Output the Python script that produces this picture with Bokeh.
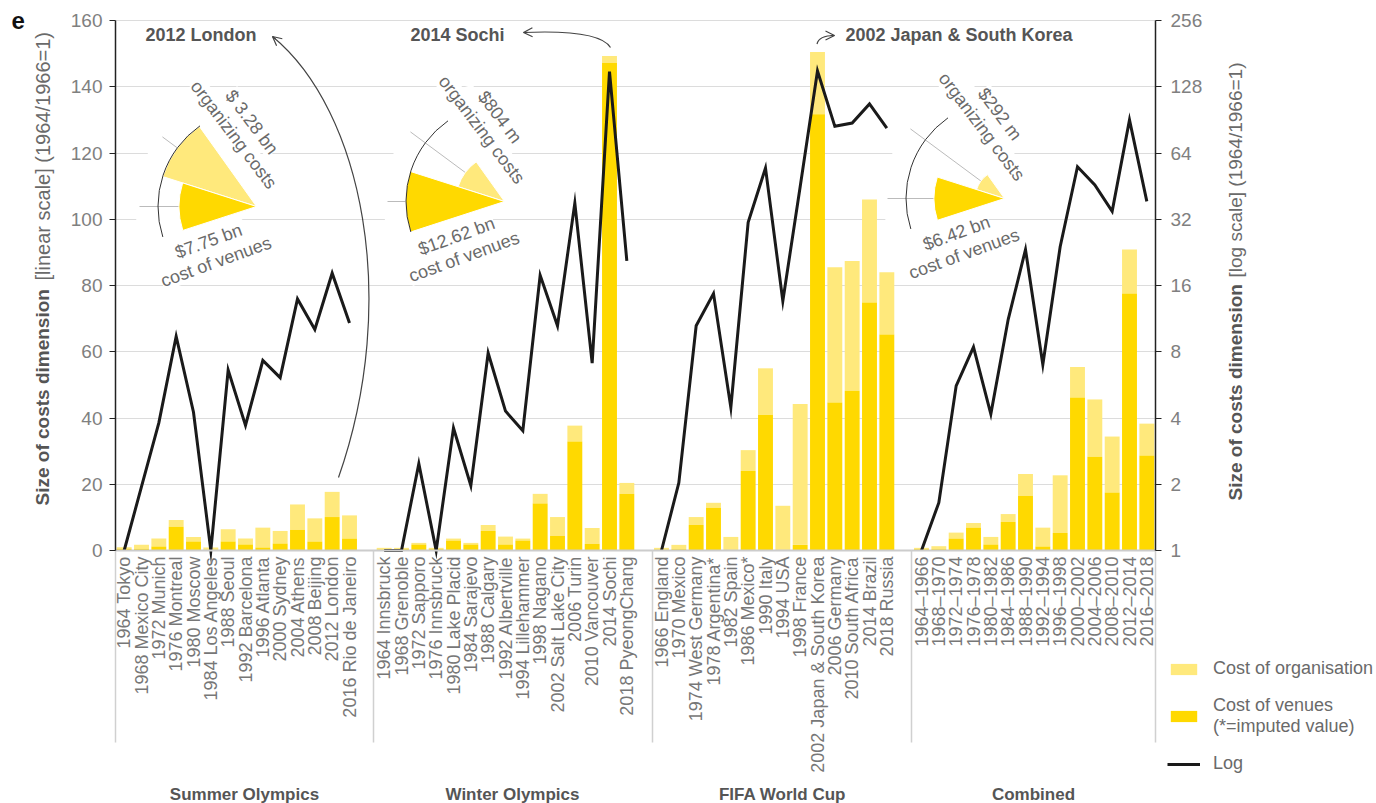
import math
from bokeh.plotting import figure
from bokeh.models import (Range1d, LogAxis, LogScale, FixedTicker, Label, Arrow, OpenHead,
                          Legend, LegendItem, ColumnDataSource)
from bokeh.embed import file_html
from bokeh.resources import INLINE

# ------------------------------------------------------------------ data
summer_names = ["1964 Tokyo", "1968 Mexico City", "1972 Munich", "1976 Montreal", "1980 Moscow",
                "1984 Los Angeles", "1988 Seoul", "1992 Barcelona", "1996 Atlanta", "2000 Sydney",
                "2004 Athens", "2008 Beijing", "2012 London", "2016 Rio de Janeiro"]
summer_venues = [0.5, 0.5, 1.2, 7.2, 2.7, 0.2, 2.7, 1.8, 0.9, 2.1, 6.2, 2.7, 10.1, 3.6]
summer_org = [0.5, 1.2, 2.4, 2.0, 1.4, 0.7, 3.7, 1.8, 6.0, 3.8, 7.7, 7.0, 7.6, 7.0]
summer_log = [1, 1.95, 3.8, 9.4, 4.25, 1, 6.6, 3.7, 7.3, 6.1, 13.9, 10.1, 18.2, 10.8]

winter_names = ["1964 Innsbruck", "1968 Grenoble", "1972 Sapporo", "1976 Innsbruck", "1980 Lake Placid",
                "1984 Sarajevo", "1988 Calgary", "1992 Albertville", "1994 Lillehammer", "1998 Nagano",
                "2002 Salt Lake City", "2006 Turin", "2010 Vancouver", "2014 Sochi", "2018 PyeongChang"]
winter_venues = [0.3, 0.4, 1.8, 0.4, 3.0, 1.8, 5.9, 1.8, 3.0, 14.2, 4.4, 32.9, 2.0, 147.2, 17.1]
winter_org = [0.5, 0.4, 0.5, 0.4, 0.6, 0.5, 1.8, 2.4, 0.6, 2.9, 5.7, 4.8, 4.8, 2.1, 3.3]
winter_log = [1, 1, 2.48, 1, 3.6, 1.97, 7.9, 4.3, 3.5, 17.8, 10.5, 37.9, 7.1, 150, 20.7]

wc_names = ["1966 England", "1970 Mexico", "1974 West Germany", "1978 Argentina*", "1982 Spain",
            "1986 Mexico*", "1990 Italy", "1994 USA", "1998 France", "2002 Japan & South Korea",
            "2006 Germany", "2010 South Africa", "2014 Brazil", "2018 Russia"]
wc_venues = [0.3, 0.4, 7.7, 12.9, 0.0, 24.0, 41.0, 0.0, 1.7, 131.7, 44.7, 48.2, 74.9, 65.2]
wc_org = [0.5, 1.3, 2.4, 1.5, 4.1, 6.3, 14.0, 13.5, 42.5, 18.8, 40.8, 39.2, 31.1, 18.8]
wc_log = [1, 2.03, 10.5, 14.7, 4.47, 31, 54.7, 13.6, 45, 150.9, 84.6, 87.6, 107, 83]

comb_names = ["1964\u20131966", "1968\u20131970", "1972\u20131974", "1976\u20131978", "1980\u20131982",
              "1984\u20131986", "1988\u20131990", "1992\u20131994", "1996\u20131998", "2000\u20132002",
              "2004\u20132006", "2008\u20132010", "2012\u20132014", "2016\u20132018"]
comb_venues = [0.4, 0.4, 3.6, 6.9, 1.8, 8.6, 16.5, 1.2, 5.3, 46.2, 28.3, 17.5, 77.6, 28.7]
comb_org = [0.4, 0.9, 1.8, 1.4, 2.3, 2.4, 6.6, 5.7, 17.4, 9.2, 17.3, 16.9, 13.3, 9.6]
comb_log = [1, 1.65, 5.6, 8.4, 4.17, 11.2, 23.3, 7.0, 24, 55.4, 45.8, 34.8, 90.5, 38.6]

group_titles = ["Summer Olympics", "Winter Olympics", "FIFA World Cup", "Combined"]
left_ticks = [0, 20, 40, 60, 80, 100, 120, 140, 160]
right_ticks = [1, 2, 4, 8, 16, 32, 64, 128, 256]

inset_titles = ["2012 London", "2014 Sochi", "2002 Japan & South Korea"]
inset_org_bn = [3.28, 0.804, 0.292]
inset_venue_bn = [7.75, 12.62, 6.42]
inset_org_text = ["$ 3.28 bn", "$804 m", "$292 m"]
inset_venue_text = ["$7.75 bn", "$12.62 bn", "$6.42 bn"]

legend_labels = ["Cost of organisation", "Cost of venues\n(*=imputed value)", "Log"]

# ------------------------------------------------------------------ layout
W, H = 1376, 803
FL, FR, FT, FB = 115, 1155, 20, 550     # pixel box of the chart area proper
XMIN, XMAX = -0.5, 59.5
YMAX = 160
LIGHT = "#FFE97C"
DARK = "#FFD900"
TXT = "#6a6a6a"
BOLD = "#555555"
FONT = "Liberation Sans"


def X(px):
    return XMIN + (px - FL) / (FR - FL) * (XMAX - XMIN)


def Y(py):
    return (FB - py) / (FB - FT) * YMAX


def LY(py):
    return 2 ** ((FB - py) / (FB - FT) * 8)


# the plotting frame covers the whole canvas; axes are pinned with fixed_location
p = figure(width=W, height=H, x_range=Range1d(X(0), X(W)), y_range=Range1d(Y(H), Y(0)),
           output_backend="svg", toolbar_location=None,
           min_border_left=0, min_border_right=0, min_border_top=0, min_border_bottom=0,
           extra_y_ranges={"log": Range1d(LY(H), LY(0))}, extra_y_scales={"log": LogScale()})
p.outline_line_color = None
p.background_fill_color = "white"
p.border_fill_color = "white"
p.xgrid.visible = False

try:
    p.ygrid.cross_bounds = (XMIN, XMAX)
    p.ygrid.bounds = (0, YMAX)
    p.ygrid.ticker = FixedTicker(ticks=left_ticks)
    p.ygrid.grid_line_color = "#dcdcdc"
    p.ygrid.grid_line_width = 1
except Exception:
    p.ygrid.visible = False
    p.segment(x0=[XMIN] * 8, y0=left_ticks[1:], x1=[XMAX] * 8, y1=left_ticks[1:],
              line_color="#dcdcdc", line_width=1, level="underlay")

starts = [0, 15, 31, 46]
names_all = [summer_names, winter_names, wc_names, comb_names]
venues_all = [summer_venues, winter_venues, wc_venues, comb_venues]
org_all = [summer_org, winter_org, wc_org, comb_org]
log_all = [summer_log, winter_log, wc_log, comb_log]

xs, labels, ven, tot = [], [], [], []
for s, nm, v, o in zip(starts, names_all, venues_all, org_all):
    for i in range(len(nm)):
        xs.append(s + i)
        labels.append(nm[i])
        ven.append(v[i])
        tot.append(v[i] + o[i])

# bottom axis: category names; minor ticks act as group separators
separators = [XMIN, 14.4, 30.5, 45.4, XMAX]
xa = p.xaxis[0]
xa.fixed_location = 0
xa.bounds = (XMIN, XMAX)
xa.ticker = FixedTicker(ticks=xs, minor_ticks=separators)
xa.major_label_overrides = {x: l for x, l in zip(xs, labels)}
xa.major_label_orientation = math.pi / 2
xa.major_tick_line_color = None
xa.major_tick_out = 0
xa.major_tick_in = 0
xa.minor_tick_line_color = "#d0d0d0"
xa.minor_tick_line_width = 1.5
xa.minor_tick_out = 192
xa.minor_tick_in = 0
xa.axis_line_color = "#cccccc"
xa.axis_line_width = 2
xa.major_label_standoff = -186
xa.major_label_text_font_size = "18px"
xa.major_label_text_color = "#777777"
xa.major_label_text_font = FONT

# left axis
ya = p.yaxis[0]
ya.fixed_location = XMIN
ya.bounds = (0, YMAX)
ya.ticker = FixedTicker(ticks=left_ticks)
ya.major_tick_out = 6
ya.major_tick_in = 0
ya.minor_tick_line_color = None
ya.axis_line_color = "#222222"
ya.axis_line_width = 1.5
ya.major_tick_line_color = "#222222"
ya.major_label_text_font_size = "19px"
ya.major_label_text_color = "#808080"
ya.major_label_text_font = FONT
ya.major_label_standoff = 7

# right log axis
ra = LogAxis(y_range_name="log", ticker=FixedTicker(ticks=right_ticks), fixed_location=XMAX,
             bounds=(1, 256), major_label_overrides={t: str(t) for t in right_ticks})
ra.major_tick_out = 6
ra.major_tick_in = 0
ra.minor_tick_line_color = None
ra.axis_line_color = "#222222"
ra.axis_line_width = 1.5
ra.major_tick_line_color = "#222222"
ra.major_label_text_font_size = "19px"
ra.major_label_text_color = "#808080"
ra.major_label_text_font = FONT
ra.major_label_standoff = 9
p.add_layout(ra, "right")

# ------------------------------------------------------------------ inset pies
centers = [(256, 206), (504, 201), (1004, 198)]
K_VEN, K_ORG = 775.0, 2950.0
A0, A1, A2 = math.radians(125.5), math.radians(162.3), math.radians(198)
r_ref = 98.5

for (cx, cy) in centers:
    p.wedge(x=X(cx), y=Y(cy), radius=121, radius_units="screen",
            start_angle=math.radians(105), end_angle=math.radians(222),
            fill_color="white", line_color=None)

for k, (cx, cy) in enumerate(centers):
    rv = math.sqrt(K_VEN * inset_venue_bn[k])
    ro = math.sqrt(K_ORG * inset_org_bn[k])
    for ang, rin in ((143.5, ro), (180.0, min(rv, r_ref))):
        a = math.radians(ang)
        p.segment(x0=X(cx + 117 * math.cos(a)), y0=Y(cy - 117 * math.sin(a)),
                  x1=X(cx + rin * math.cos(a)), y1=Y(cy - rin * math.sin(a)),
                  line_color="#bbbbbb", line_width=1)
    p.wedge(x=X(cx), y=Y(cy), radius=ro, radius_units="screen", start_angle=A0, end_angle=A1,
            fill_color=LIGHT, line_color="white", line_width=1)
    p.wedge(x=X(cx), y=Y(cy), radius=rv, radius_units="screen", start_angle=A1, end_angle=A2,
            fill_color=DARK, line_color="white", line_width=1)
    p.arc(x=X(cx), y=Y(cy), radius=r_ref, radius_units="screen", start_angle=math.radians(125),
          end_angle=A2, line_color="#333333", line_width=1)

    def lab(dx, dy, text, ang):
        p.add_layout(Label(x=X(cx + dx), y=Y(cy + dy), text=text, angle=math.radians(ang),
                           text_align="center", text_baseline="middle", text_font=FONT,
                           text_font_size="18px", text_color=TXT, background_fill_color="white"))
    lab(-4.7, -84.4, inset_org_text[k], -53)
    lab(-22.7, -71.7, "organizing costs", -53)
    lab(-48, 34.7, inset_venue_text[k], 20)
    lab(-40.5, 55.3, "cost of venues", 20)

# ------------------------------------------------------------------ bars
src = ColumnDataSource(dict(x=xs, venue=ven, total=tot))
r_org = p.vbar(x="x", bottom="venue", top="total", width=0.86, source=src,
               fill_color=LIGHT, line_color=None)
r_ven = p.vbar(x="x", bottom=0, top="venue", width=0.86, source=src,
               fill_color=DARK, line_color=None)

# ------------------------------------------------------------------ log lines
line_rs = []
for s, lg in zip(starts, log_all):
    line_rs.append(p.line(x=[s + i for i in range(len(lg))], y=lg, y_range_name="log",
                          line_color="#1a1a1a", line_width=3, line_join="miter"))

# ------------------------------------------------------------------ callout arrows
def curve(P0, P1, P2, P3):
    p.bezier(x0=X(P0[0]), y0=Y(P0[1]), x1=X(P3[0]), y1=Y(P3[1]),
             cx0=X(P1[0]), cy0=Y(P1[1]), cx1=X(P2[0]), cy1=Y(P2[1]),
             line_color="#444444", line_width=1.2)


def head(tip, frm):
    dx, dy = tip[0] - frm[0], tip[1] - frm[1]
    n = math.hypot(dx, dy)
    sx, sy = tip[0] - 4 * dx / n, tip[1] - 4 * dy / n
    p.add_layout(Arrow(start=None, end=OpenHead(size=9, line_color="#444444", line_width=1.2),
                       x_start=X(sx), y_start=Y(sy), x_end=X(tip[0]), y_end=Y(tip[1]),
                       line_color="#444444", line_width=1.2))


curve((338, 477), (400, 300), (362, 110), (272, 36))
head((272, 36), (362, 110))
curve((610, 47), (602, 34), (570, 30), (523, 32))
head((523, 32), (570, 31))
curve((816.5, 43.5), (818, 37), (824, 35), (834, 35))
head((834, 35), (824, 35))


def tlabel(xp, yp, text, bold=False, angle=0.0, size="18px", color=None, align="left"):
    p.add_layout(Label(x=X(xp), y=Y(yp), text=text, angle=angle, text_align=align,
                       text_baseline="middle", text_font=FONT, text_font_size=size,
                       text_font_style="bold" if bold else "normal",
                       text_color=color or (BOLD if bold else TXT)))


for t, xp in zip(inset_titles, [145, 410, 845]):
    tlabel(xp, 34, t, True)

for t, xp in zip(group_titles, (244, 512, 782, 1033)):
    tlabel(xp, 794, t, True, size="17px", align="center")

tlabel(42, 505, "Size of costs dimension", True, math.pi / 2, size="19px")
tlabel(42, 280, "[linear scale] (1964/1966=1)", False, math.pi / 2, size="20px")
tlabel(1235, 500, "Size of costs dimension", True, math.pi / 2, size="19px")
tlabel(1235, 277, "[log scale] (1964/1966=1)", False, math.pi / 2, size="19px")
tlabel(11, 20, "e", True, size="24px", color="#111111")

# ------------------------------------------------------------------ legend
legend = Legend(items=[LegendItem(label=legend_labels[0], renderers=[r_org]),
                       LegendItem(label=legend_labels[1], renderers=[r_ven]),
                       LegendItem(label=legend_labels[2], renderers=[line_rs[0]])],
                location=(1167, 29), orientation="vertical", glyph_width=33, glyph_height=14,
                label_standoff=13, spacing=16, padding=0, margin=0, border_line_color=None,
                background_fill_alpha=0, label_text_font_size="18px", label_text_color=TXT,
                label_text_font=FONT)
p.add_layout(legend)

open("out.html", "w").write(file_html(p, INLINE))
